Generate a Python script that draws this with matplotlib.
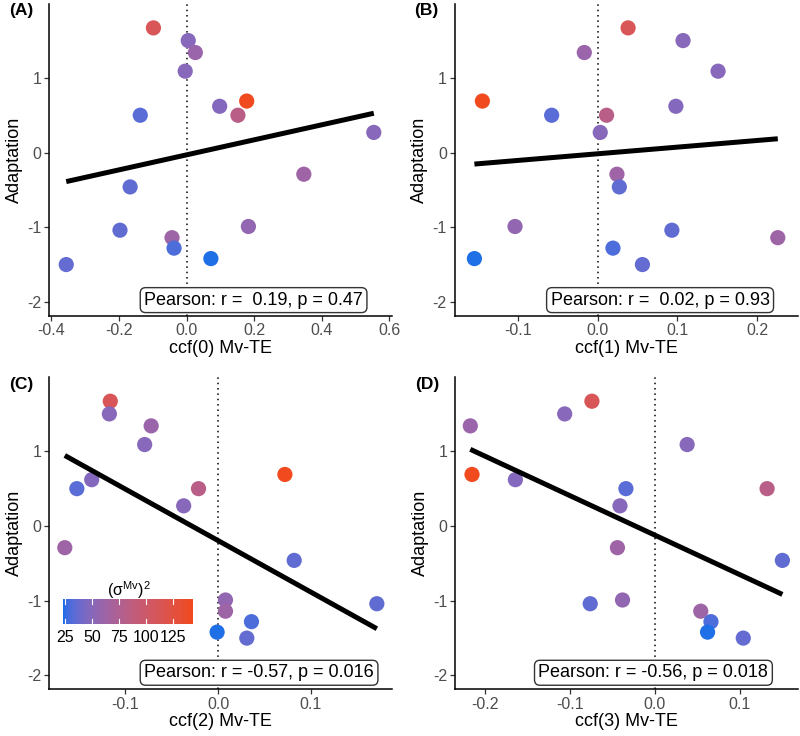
import numpy as np
import matplotlib
matplotlib.use("Agg")
import matplotlib.pyplot as plt
from matplotlib.colors import ListedColormap, Normalize

plt.rcParams['font.family'] = ['Liberation Sans', 'DejaVu Sans']
plt.rcParams['axes.unicode_minus'] = False
plt.rcParams['mathtext.fontset'] = 'custom'
plt.rcParams['mathtext.rm'] = 'Liberation Sans'

# Data: same 17 subjects in every panel
adaptation = [1.67, 1.50, 1.34, 1.09, 0.69, 0.62, 0.50, 0.50, 0.27,
              -0.29, -0.46, -0.99, -1.04, -1.14, -1.28, -1.42, -1.50]
sigma_mv2 = [112, 50, 60, 50, 143, 48, 82, 33, 50,
             63, 35, 55, 35, 62, 30, 23, 36]
ccf0 = [-0.098, 0.005, 0.026, -0.004, 0.178, 0.098, 0.152, -0.137, 0.554,
        0.347, -0.167, 0.183, -0.197, -0.043, -0.037, 0.072, -0.356]
ccf1 = [0.038, 0.107, -0.017, 0.151, -0.145, 0.098, 0.011, -0.058, 0.003,
        0.024, 0.027, -0.104, 0.093, 0.226, 0.019, -0.155, 0.056]
ccf2 = [-0.116, -0.117, -0.072, -0.079, 0.072, -0.136, -0.021, -0.152, -0.037,
        -0.165, 0.082, 0.008, 0.171, 0.008, 0.036, -0.001, 0.031]
ccf3 = [-0.074, -0.106, -0.217, 0.038, -0.215, -0.164, 0.132, -0.034, -0.041,
        -0.044, 0.150, -0.038, -0.076, 0.054, 0.066, 0.062, 0.104]

panel_tags = ["(A)", "(B)", "(C)", "(D)"]
x_titles = ["ccf(0) Mv-TE", "ccf(1) Mv-TE", "ccf(2) Mv-TE", "ccf(3) Mv-TE"]
pearson_labels = ["Pearson: r =  0.19, p = 0.47", "Pearson: r =  0.02, p = 0.93",
                  "Pearson: r = -0.57, p = 0.016", "Pearson: r = -0.56, p = 0.018"]
x_ticks = [[-0.4, -0.2, 0.0, 0.2, 0.4, 0.6], [-0.1, 0.0, 0.1, 0.2],
           [-0.1, 0.0, 0.1], [-0.2, -0.1, 0.0, 0.1]]
y_ticks = [-2, -1, 0, 1]
cbar_ticks = [25, 50, 75, 100, 125]


# ggplot-like gradient: interpolate low -> high in Lab space
def hex2rgb(h):
    h = h.lstrip('#')
    return np.array([int(h[i:i + 2], 16) / 255 for i in (0, 2, 4)])

M = np.array([[0.4124, 0.3576, 0.1805], [0.2126, 0.7152, 0.0722], [0.0193, 0.1192, 0.9505]])
WHITE = np.array([0.95047, 1.0, 1.08883])

def rgb2lab(c):
    lin = np.where(c <= 0.04045, c / 12.92, ((c + 0.055) / 1.055) ** 2.4)
    xyz = M @ lin / WHITE
    f = np.where(xyz > 0.008856, np.cbrt(xyz), 7.787 * xyz + 16 / 116)
    return np.array([116 * f[1] - 16, 500 * (f[0] - f[1]), 200 * (f[1] - f[2])])

def lab2rgb(lab):
    fy = (lab[0] + 16) / 116
    f = np.array([fy + lab[1] / 500, fy, fy - lab[2] / 200])
    xyz = np.where(f ** 3 > 0.008856, f ** 3, (f - 16 / 116) / 7.787) * WHITE
    lin = np.linalg.solve(M, xyz)
    c = np.where(lin <= 0.0031308, 12.92 * lin, 1.055 * np.clip(lin, 0, None) ** (1 / 2.4) - 0.055)
    return np.clip(c, 0, 1)

lo, hi = rgb2lab(hex2rgb("#1F6FE6")), rgb2lab(hex2rgb("#F04A1E"))
cmap = ListedColormap([lab2rgb(lo + t * (hi - lo)) for t in np.linspace(0, 1, 256)])
norm = Normalize(vmin=23, vmax=143)

fig = plt.figure(figsize=(8, 7.36), dpi=100)
W, H = 800, 736
# panel boxes in pixels: left, top, right, bottom
boxes = [(49, 4, 391.7, 315.7), (454.5, 4, 797.7, 315.7),
         (49, 377.3, 391.7, 689.3), (455, 377.3, 797.7, 689.3)]
xlims = [(-0.407, 0.607), (-0.180, 0.251), (-0.182, 0.187), (-0.235, 0.168)]
ylim = (-2.185, 1.99)
label_x = [0.597, 0.599, 0.613, 0.579]
label_y = [0.05, 0.05, 0.053, 0.053]

for i, xs in enumerate([ccf0, ccf1, ccf2, ccf3]):
    l, t, r, b = boxes[i]
    ax = fig.add_axes([l / W, 1 - b / H, (r - l) / W, (b - t) / H])
    ax.axvline(0, color='black', linestyle=(0, (1, 2.5)), linewidth=1.1, zorder=1)
    ax.scatter(xs, adaptation, c=sigma_mv2, cmap=cmap, norm=norm, s=120,
               edgecolors='none', zorder=3)
    slope, icpt = np.polyfit(xs, adaptation, 1)
    xx = np.array([min(xs), max(xs)])
    ax.plot(xx, slope * xx + icpt, color='black', linewidth=3.6, zorder=4,
            solid_capstyle='butt')
    ax.text(label_x[i], label_y[i], pearson_labels[i], transform=ax.transAxes,
            ha='center', va='center', fontsize=13, color='black', zorder=5,
            bbox=dict(boxstyle='round,pad=0.22,rounding_size=0.3',
                      facecolor='white', edgecolor='#333333', linewidth=1.0))
    ax.set_xlim(*xlims[i])
    ax.set_ylim(*ylim)
    ax.set_xticks(x_ticks[i])
    ax.set_xticklabels(["%.1f" % v for v in x_ticks[i]])
    ax.set_yticks(y_ticks)
    ax.set_yticklabels([str(v) for v in y_ticks])
    for s in ['top', 'right']:
        ax.spines[s].set_visible(False)
    for s in ['left', 'bottom']:
        ax.spines[s].set_linewidth(1.1)
    ax.tick_params(labelsize=11.5, labelcolor='#4D4D4D', color='#333333',
                   length=3.5, width=0.9, pad=2)
    ax.set_xlabel(x_titles[i], fontsize=13, labelpad=1)
    ax.set_ylabel("Adaptation", fontsize=13, labelpad=3)
    fig.text((l - 40) / W, 1 - (t + 7) / H, panel_tags[i],
             fontsize=12.5, fontweight='bold', ha='left', va='center')

# colour bar inside panel C
cax = fig.add_axes([62.7 / W, 1 - 624.3 / H, 130 / W, 25 / H])
grad = np.linspace(23, 143, 300).reshape(1, -1)
cax.imshow(grad, cmap=cmap, norm=norm, aspect='auto', extent=(23, 143, 0, 1))
for v in cbar_ticks:
    cax.plot([v, v], [0, 0.2], color='white', linewidth=0.8)
    cax.plot([v, v], [0.8, 1], color='white', linewidth=0.8)
cax.set_xlim(23, 143)
cax.set_ylim(0, 1)
cax.set_yticks([])
cax.set_xticks(cbar_ticks)
cax.set_xticklabels([str(v) for v in cbar_ticks])
cax.tick_params(length=0, labelsize=11.5, labelcolor='black', pad=4)
for s in cax.spines.values():
    s.set_visible(False)
cax.text(0.51, 1.38, r"$\mathrm{(σ^{Mv})^2}$", transform=cax.transAxes,
         ha='center', va='center', fontsize=11.5)

fig.savefig("out.png", dpi=100)
